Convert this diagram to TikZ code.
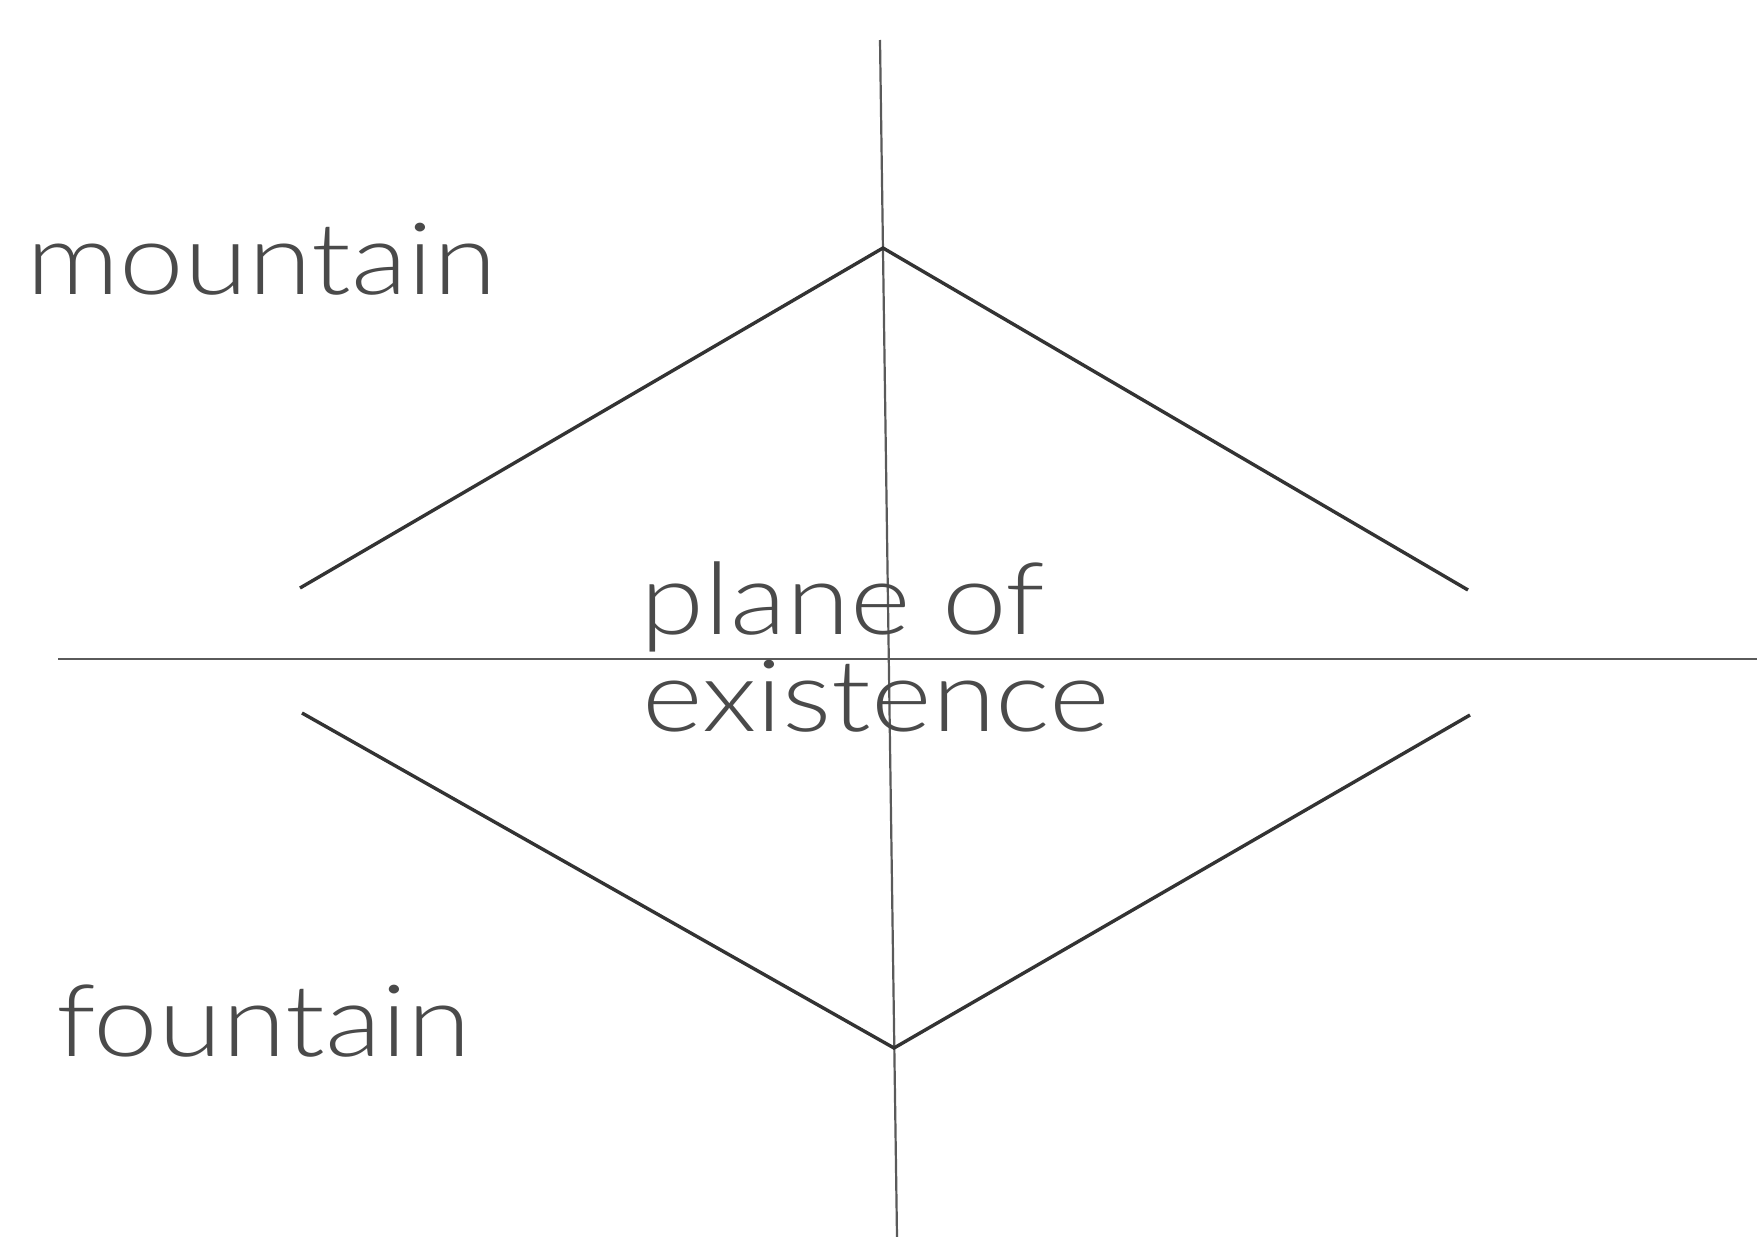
\documentclass[tikz,border=0pt]{standalone}
\usepackage{fontspec}
\setmainfont{TeX Gyre Heros}
\newfontfamily\lblfont{Lato Light}[FakeStretch=1.16]
\definecolor{txtgray}{HTML}{4A4A4A}
\definecolor{axisgray}{HTML}{5A5A5A}
\definecolor{linegray}{HTML}{333333}
\begin{document}
\begin{tikzpicture}[x=0.5pt,y=-0.5pt,
  axis/.style={draw=axisgray,line width=1.1pt},
  shape line/.style={draw=linegray,line width=1.7pt,line join=miter},
  label/.style={anchor=base west,inner sep=0pt,text=txtgray,font=\lblfont\fontsize{50}{50}\selectfont}]
\useasboundingbox[fill=white] (0,0) rectangle (1757,1237);
% axes
\coordinate (vtop) at (880,40);
\coordinate (vbot) at (897,1237);
\coordinate (hl) at (58,659);
\coordinate (hr) at (1757,659);
\draw[axis] (vtop) -- (vbot);
\draw[axis] (hl) -- (hr);
% mountain
\coordinate (mL) at (300,588);
\coordinate (mT) at (883,248);
\coordinate (mR) at (1468,590);
\draw[shape line] (mL) -- (mT) -- (mR);
% fountain
\coordinate (fL) at (302,713);
\coordinate (fB) at (894,1048);
\coordinate (fR) at (1470,715);
\draw[shape line] (fL) -- (fB) -- (fR);
% labels
\node[label] (mountain) at (26,294) {mountain};
\node[label] (fountain) at (56,1056) {fountain};
\node[label] (plane) at (640,634) {plane of};
\node[label] (existence) at (642,731) {existence};
\end{tikzpicture}
\end{document}
